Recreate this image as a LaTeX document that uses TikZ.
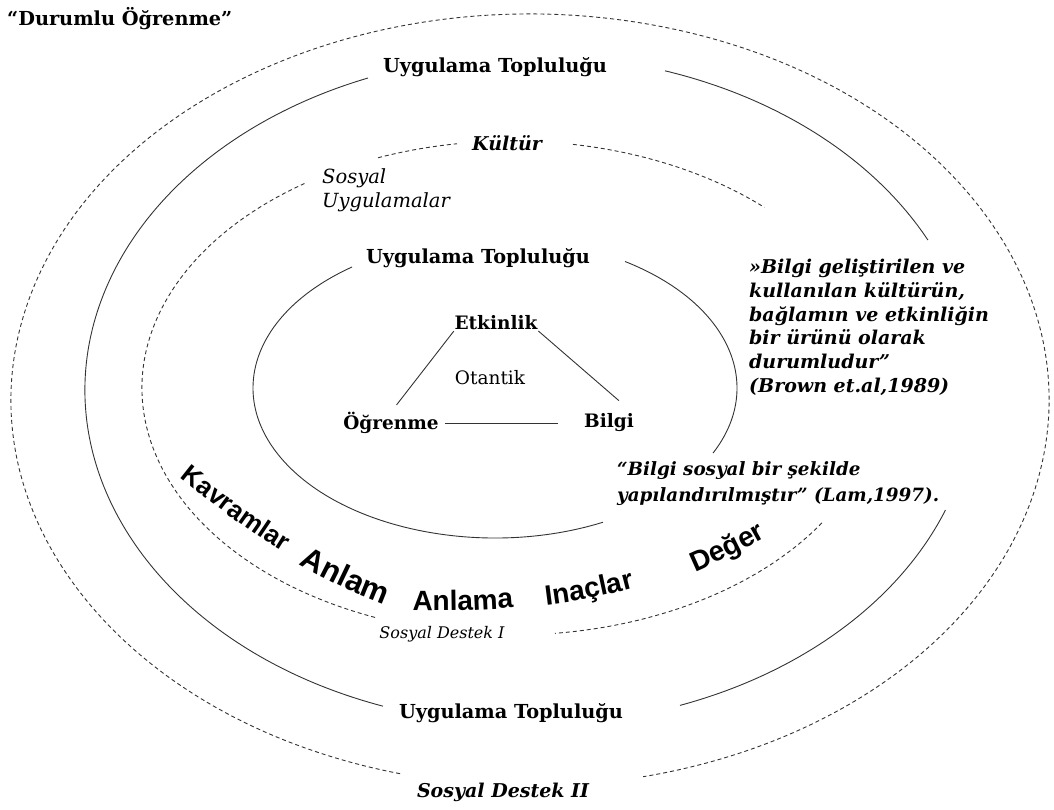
\documentclass[tikz,border=0pt]{standalone}
\usepackage{fontspec}
\setmainfont{DejaVu Serif}
\newfontfamily\wafont{Liberation Sans}
\usetikzlibrary{decorations.text}
\tikzset{
  solidl/.style={line width=0.9pt, black!80},
  dashl/.style={line width=0.9pt, black!80, dash pattern=on 4pt off 3pt},
  bigb/.style={inner sep=0pt, font=\fontsize{19.3}{23}\selectfont\bfseries},
  midb/.style={inner sep=0pt, font=\fontsize{18.5}{21}\selectfont\bfseries},
  reg/.style={inner sep=0pt, font=\fontsize{18.5}{21}\selectfont},
  bit/.style={inner sep=0pt, font=\fontsize{19}{22}\selectfont\bfseries\itshape},
  sit/.style={inner sep=0pt, font=\fontsize{16}{20}\selectfont\itshape},
  quote/.style={inner sep=0pt, align=left, font=\fontsize{19}{23.7}\selectfont\bfseries\itshape},
  quoteb/.style={inner sep=0pt, align=left, font=\fontsize{18.3}{26}\selectfont\bfseries\itshape},
  lit/.style={inner sep=0pt, align=left, font=\fontsize{19.5}{24}\selectfont\itshape},
  wordart/.style 2 args={decorate, decoration={text along path, text align=center,
      text={|\wafont\bfseries\fontsize{#1}{#1}\selectfont|#2}}}
}
\begin{document}
\begin{tikzpicture}[x=1pt, y=-1pt]
\useasboundingbox (0,0) rectangle (1054,810);

% centres of the rings
\coordinate (c4) at (530,400);
\coordinate (c3) at (530,390);
\coordinate (c2) at (512,388);
\coordinate (c1) at (495,388);

% outer dashed ring (Sosyal Destek II)
\draw[dashl] (c4) ++(104.5:519 and 386) arc[start angle=104.5, end angle=437.4, x radius=519, y radius=386];

% solid ring (Uygulama Toplulugu, outer)
\draw[solidl] (c3) ++(109.3:445 and 335) arc[start angle=109.3, end angle=248.65, x radius=445, y radius=335];
\draw[solidl] (c3) ++(287.66:445 and 335) arc[start angle=287.66, end angle=333.4, x radius=445, y radius=335];
\draw[solidl] (c3) ++(21:445 and 335) arc[start angle=21, end angle=70.3, x radius=445, y radius=335];

% inner dashed ring (Sosyal Destek I)
\draw[dashl] (c2) ++(111.73:370 and 247) arc[start angle=111.73, end angle=236.35, x radius=370, y radius=247];
\draw[dashl] (c2) ++(248.77:370 and 247) arc[start angle=248.77, end angle=261.45, x radius=370, y radius=247];
\draw[dashl] (c2) ++(279.49:370 and 247) arc[start angle=279.49, end angle=313, x radius=370, y radius=247];
\draw[dashl] (c2) ++(33.1:370 and 247) arc[start angle=33.1, end angle=83.33, x radius=370, y radius=247];

% inner solid ring
\draw[solidl] (c1) ++(63.5:242 and 150) arc[start angle=63.5, end angle=233.8, x radius=242, y radius=150];
\draw[solidl] (c1) ++(302.5:242 and 150) arc[start angle=302.5, end angle=385.7, x radius=242, y radius=150];

% labels
\node[bigb, anchor=west] (title) at (7,19) {“Durumlu Öğrenme”};
\node[bigb] (ut1) at (495,67) {Uygulama Topluluğu};
\node[bigb] (ut2) at (478,258) {Uygulama Topluluğu};
\node[bigb] (ut3) at (511,713) {Uygulama Topluluğu};
\node[bit] (kultur) at (507,143) {Kültür};
\node[lit, anchor=north west] (sosu) at (322,168) {Sosyal\\Uygulamalar};
\node[sit] (sd1) at (442,634) {Sosyal Destek I};
\node[bit] (sd2) at (503,792) {Sosyal Destek II};

\node[quote, anchor=north west] (brown) at (749,259) {»Bilgi geliştirilen ve\\kullanılan kültürün,\\bağlamın ve etkinliğin\\bir ürünü olarak\\durumludur”\\(Brown et.al,1989)};
\node[quoteb, anchor=north west] (lam) at (617,461) {“Bilgi sosyal bir şekilde\\yapılandırılmıştır” (Lam,1997).};

% triangle
\node[midb] (etk) at (496,323) {Etkinlik};
\node[midb] (ogr) at (391,423) {Öğrenme};
\node[midb] (bil) at (609,423) {Bilgi};
\node[reg] (ota) at (490,378) {Otantik};
\draw[solidl, shorten <=1pt, shorten >=9pt] (etk.south west) -- (ogr.north);
\draw[solidl, shorten <=1pt, shorten >=20pt] (etk.south east) -- (bil.north east);
\draw[solidl, shorten <=6pt, shorten >=26pt] (ogr.east) -- (bil.west);

% curved words
\path[wordart={26}{Kavramlar}] (168,468) .. controls (208,500) and (248,532) .. (296,560);
\path[wordart={31}{Anlam}] (288,558) .. controls (320,577) and (356,595) .. (396,609);
\path[wordart={28}{Anlama}] (396,610) .. controls (440,611) and (485,611) .. (530,606);
\path[wordart={28}{Inaçlar}] (528,607) .. controls (570,603) and (612,595) .. (652,583);
\path[wordart={28}{Değer}] (674,581) .. controls (710,566) and (748,549) .. (786,525);
\end{tikzpicture}
\end{document}
